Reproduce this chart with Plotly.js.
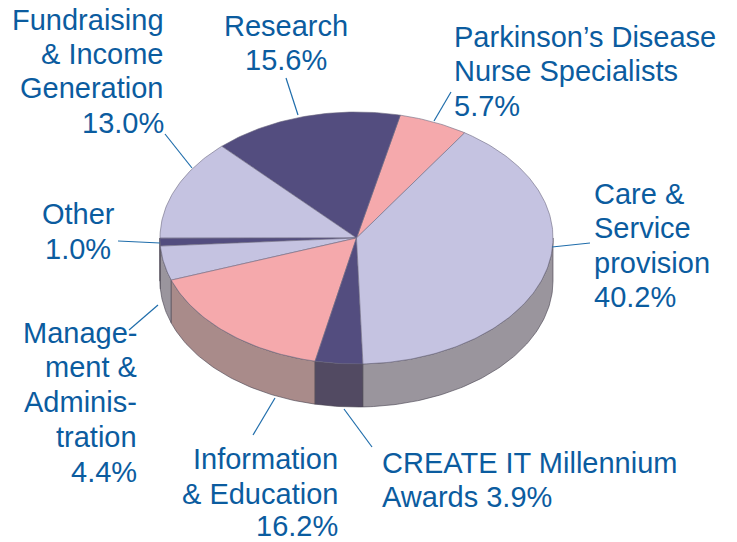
<!DOCTYPE html>
<html><head><meta charset="utf-8">
<script src="https://cdn.plot.ly/plotly-3.0.1.min.js"></script>
<style>html,body{margin:0;padding:0;background:#fff}#c{width:737px;height:542px}</style>
</head><body><div id="c"></div>
<script>
// Data
var categories = ["Parkinson’s Disease Nurse Specialists","Research","Fundraising & Income Generation","Other","Management & Administration","Information & Education","CREATE IT Millennium Awards","Care & Service provision"];
var shares = [5.7,15.6,13.0,1.0,4.4,16.2,3.9,40.2];
var topColors = ["#f5a9ac","#534d7f","#c5c3e1","#534d7f","#c5c3e1","#f5a9ac","#534d7f","#c5c3e1"];
var sideColors = ["#a98b8a","#524a62","#9a959d","#524a62","#9a959d","#a98b8a","#524a62","#9a959d"];

// label lines: text, x, y, anchor
var labelText = ["Fundraising","& Income","Generation","13.0%","Research","15.6%","Parkinson’s Disease","Nurse Specialists","5.7%","Care &","Service","provision","40.2%","Other","1.0%","Manage-","ment &","Adminis-","tration","4.4%","Information","& Education","16.2%","CREATE IT Millennium","Awards 3.9%"];
var labelX = [165,165,165,165,286,286,453,453,453,593,593,593,593,78,78,138,138,138,138,138,339,339,339,381,381];
var labelY = [20,54,88,123,26,60,37,71,106,194,228,263,297,214,249,333,367,402,437,472,459,494,525.5,463,497];
var labelAnchor = ["right","right","right","right","center","center","left","left","left","left","left","left","left","center","center","right","right","right","right","right","right","right","right","left","left"];

// leader lines
var leaderX = [[165,192],[286,298],[451,434],[552,590],[118,160],[158,129],[275,253],[344,372]];
var leaderY = [[134,168],[78,115],[92,121],[247,243],[241,243],[305,330],[398,435],[409,447]];

// Projection of the disc
var cx=356.5, cy=238, rx=196.5, ry=126, depth=43, startDeg=56.6;
function px(a){return cx+rx*Math.cos(a*Math.PI/180);}
function py(a,d){return cy-ry*Math.sin(a*Math.PI/180)+(d||0);}

var walls=[], tops=[], a=startDeg;
shares.forEach(function(v,i){
  var a0=a, a1=a+v*3.6; a=a1;
  var xs=[cx], ys=[cy], t;
  for(t=a0;t<a1;t+=1){xs.push(px(t));ys.push(py(t));}
  xs.push(px(a1));ys.push(py(a1));xs.push(cx);ys.push(cy);
  tops.push({type:"scatter",mode:"lines",x:xs,y:ys,fill:"toself",fillcolor:topColors[i],
    line:{color:"#6b6880",width:0.6},hoverinfo:"skip",showlegend:false,name:categories[i]});
  var b0=Math.max(a0,180), b1=Math.min(a1,360);
  if(b1>b0){
    var wx=[],wy=[];
    for(t=b0;t<b1;t+=1){wx.push(px(t));wy.push(py(t));}
    wx.push(px(b1));wy.push(py(b1));
    wx.push(px(b1));wy.push(py(b1,depth));
    for(t=b1;t>b0;t-=1){wx.push(px(t));wy.push(py(t,depth));}
    wx.push(px(b0));wy.push(py(b0,depth));
    wx.push(wx[0]);wy.push(wy[0]);
    walls.push({type:"scatter",mode:"lines",x:wx,y:wy,fill:"toself",fillcolor:sideColors[i],
      line:{color:"#46424f",width:0.6},hoverinfo:"skip",showlegend:false});
  }
});
var leaders=leaderX.map(function(x,i){
  return {type:"scatter",mode:"lines",x:x,y:leaderY[i],line:{color:"#1f6dab",width:1.2},hoverinfo:"skip",showlegend:false};
});
var annotations=labelText.map(function(s,i){
  return {text:s,x:labelX[i],y:labelY[i],xref:"x",yref:"y",xanchor:labelAnchor[i],yanchor:"middle",
    showarrow:false,borderpad:0,font:{family:"Liberation Sans, Arial, sans-serif",size:29,color:"#0b5c9f"}};
});
Plotly.newPlot("c",walls.concat(tops,leaders),{
  width:737,height:542,margin:{l:0,r:0,t:0,b:0},paper_bgcolor:"#fff",plot_bgcolor:"#fff",
  xaxis:{range:[0,737],visible:false,fixedrange:true},
  yaxis:{range:[542,0],visible:false,fixedrange:true},
  showlegend:false,annotations:annotations
},{displayModeBar:false,staticPlot:true});
</script></body></html>
